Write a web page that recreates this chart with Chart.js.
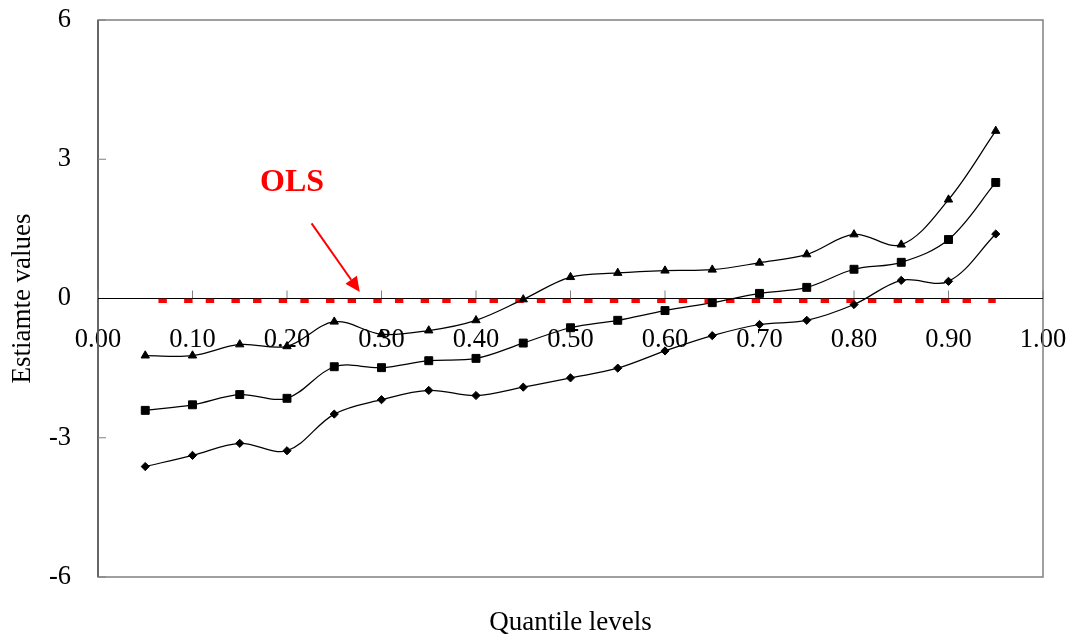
<!DOCTYPE html>
<html>
<head>
<meta charset="utf-8">
<title>Quantile estimates</title>
<script src="https://cdn.jsdelivr.net/npm/chart.js@4.4.1/dist/chart.umd.min.js"></script>
<style>
  html, body { margin: 0; padding: 0; background: #fff; }
  #wrap { width: 1070px; height: 640px; }
</style>
</head>
<body>
<div id="wrap"><canvas id="myChart" width="1070" height="640"></canvas></div>
<script>
// quantile levels (x values of every point)
const quantiles = [0.05, 0.10, 0.15, 0.20, 0.25, 0.30, 0.35, 0.40, 0.45, 0.50,
  0.55, 0.60, 0.65, 0.70, 0.75, 0.80, 0.85, 0.90, 0.95];

// estimates
const upperValues = [-1.23, -1.23, -0.99, -1.03, -0.50, -0.77, -0.69, -0.47, -0.02, 0.46,
  0.55, 0.60, 0.62, 0.77, 0.95, 1.38, 1.16, 2.13, 3.61];
const middleValues = [-2.41, -2.29, -2.07, -2.15, -1.47, -1.49, -1.34, -1.29, -0.96, -0.63,
  -0.47, -0.26, -0.09, 0.11, 0.24, 0.63, 0.78, 1.27, 2.50];
const lowerValues = [-3.62, -3.38, -3.12, -3.28, -2.49, -2.18, -1.98, -2.09, -1.91, -1.71,
  -1.50, -1.13, -0.80, -0.56, -0.47, -0.13, 0.39, 0.37, 1.39];
const olsValues = [-0.05, -0.05, -0.05, -0.05, -0.05, -0.05, -0.05, -0.05, -0.05, -0.05,
  -0.05, -0.05, -0.05, -0.05, -0.05, -0.05, -0.05, -0.05, -0.05];

// tick labels
const xTickValues = [0, 0.1, 0.2, 0.3, 0.4, 0.5, 0.6, 0.7, 0.8, 0.9, 1];
const yTickValues = [-6, -3, 0, 3, 6];

const serif = "'Liberation Serif', 'Times New Roman', serif";

const toPoints = (values) => quantiles.map((q, i) => ({ x: q, y: values[i] }));

const curve = (label, values, style, radius) => ({
  label: label,
  data: toPoints(values),
  borderColor: "#000",
  borderWidth: 1.25,
  backgroundColor: "#000",
  pointStyle: style,
  pointRadius: radius,
  pointBorderWidth: 1,
  pointBackgroundColor: "#000",
  pointBorderColor: "#000",
  tension: 0.35,
  fill: false,
});

// frame, inner ticks and the zero line
const framePlugin = {
  id: "frame",
  beforeDatasetsDraw(chart) {
    const { ctx, chartArea: a, scales } = chart;
    const y0 = scales.y.getPixelForValue(0);
    const line = (x1, y1, x2, y2) => {
      ctx.beginPath();
      ctx.moveTo(x1, y1);
      ctx.lineTo(x2, y2);
      ctx.stroke();
    };
    ctx.save();
    ctx.strokeStyle = "#808080";
    ctx.lineWidth = 1.5;
    ctx.strokeRect(a.left, a.top, a.right - a.left, a.bottom - a.top);
    ctx.strokeStyle = "#555";
    line(a.left, a.top, a.left, a.bottom);
    ctx.lineWidth = 1;
    ctx.strokeStyle = "#808080";
    yTickValues.forEach((v) => {
      const py = scales.y.getPixelForValue(v);
      line(a.left, py, a.left + 8, py);
    });
    xTickValues.forEach((v) => {
      const px = scales.x.getPixelForValue(v);
      line(px, y0, px, y0 - 8);
    });
    ctx.strokeStyle = "#000";
    line(a.left, y0, a.right, y0);
    ctx.restore();
  },
};

// "OLS" label with its arrow
const olsNote = { textX: 0.2054, textY: 2.32, fromX: 0.226, fromY: 1.62, toX: 0.277, toY: 0.14 };

const notePlugin = {
  id: "olsNote",
  afterDatasetsDraw(chart) {
    const { ctx, scales } = chart;
    const sx = (v) => scales.x.getPixelForValue(v);
    const sy = (v) => scales.y.getPixelForValue(v);
    ctx.save();
    ctx.fillStyle = "#ff0000";
    ctx.strokeStyle = "#ff0000";
    ctx.font = "bold 32px " + serif;
    ctx.textAlign = "center";
    ctx.textBaseline = "alphabetic";
    ctx.fillText("OLS", sx(olsNote.textX), sy(olsNote.textY));

    const x1 = sx(olsNote.fromX), y1 = sy(olsNote.fromY);
    const x2 = sx(olsNote.toX), y2 = sy(olsNote.toY);
    const ang = Math.atan2(y2 - y1, x2 - x1);
    const head = 15;
    const half = 7;
    const bx = x2 - head * Math.cos(ang), by = y2 - head * Math.sin(ang);
    ctx.lineWidth = 2;
    ctx.beginPath();
    ctx.moveTo(x1, y1);
    ctx.lineTo(bx, by);
    ctx.stroke();
    ctx.beginPath();
    ctx.moveTo(x2, y2);
    ctx.lineTo(bx + half * Math.sin(ang), by - half * Math.cos(ang));
    ctx.lineTo(bx - half * Math.sin(ang), by + half * Math.cos(ang));
    ctx.closePath();
    ctx.fill();
    ctx.restore();
  },
};

const ctx = document.getElementById("myChart").getContext("2d");
const myChart = new Chart(ctx, {
  type: "line",
  data: {
    datasets: [
      curve("Upper", upperValues, "triangle", 4.8),
      curve("Estimate", middleValues, "rect", 5.6),
      curve("Lower", lowerValues, "rectRot", 4.1),
      {
        label: "OLS",
        data: toPoints(olsValues),
        borderColor: "#ff0000",
        borderWidth: 4.3,
        borderDash: [8.4, 13.2, 8.4, 17.3],
        borderDashOffset: 8.4,
        borderCapStyle: "butt",
        pointRadius: 0,
        tension: 0,
        fill: false,
      },
    ],
  },
  options: {
    responsive: false,
    animation: false,
    layout: { padding: { left: 0, top: 20, right: 27, bottom: 0 } },
    plugins: {
      legend: { display: false },
      tooltip: { enabled: false },
      title: {
        display: true,
        position: "bottom",
        fullSize: false,
        text: "Quantile levels",
        color: "#000",
        font: { family: serif, size: 27, weight: "normal" },
        padding: { top: 30, bottom: 0.6 },
      },
    },
    scales: {
      x: {
        type: "linear",
        min: 0,
        max: 1,
        position: { y: 0 },
        grid: { display: false, drawTicks: false },
        border: { display: false },
        afterBuildTicks: (scale) => {
          scale.ticks = xTickValues.map((v) => ({ value: v }));
        },
        afterFit: (scale) => {
          // labels may hang over the edges, keep the plot box fixed
          scale.paddingLeft = 0;
          scale.paddingRight = 0;
        },
        ticks: {
          color: "#000",
          padding: 26,
          autoSkip: false,
          maxRotation: 0,
          font: { family: serif, size: 26.5 },
          callback: (v) => Number(v).toFixed(2),
        },
      },
      y: {
        type: "linear",
        min: -6,
        max: 6,
        grid: { display: false, drawTicks: false },
        border: { display: false },
        afterBuildTicks: (scale) => {
          scale.ticks = yTickValues.map((v) => ({ value: v }));
        },
        afterFit: (scale) => {
          scale.width = 98;
          scale.paddingTop = 0;
          scale.paddingBottom = 0;
        },
        ticks: {
          color: "#000",
          padding: 27,
          font: { family: serif, size: 26.5 },
          callback: (v) => String(v),
        },
        title: {
          display: true,
          text: "Estiamte values",
          color: "#000",
          font: { family: serif, size: 27 },
          padding: { top: 7, bottom: 0 },
        },
      },
    },
  },
  plugins: [framePlugin, notePlugin],
});
</script>
</body>
</html>
